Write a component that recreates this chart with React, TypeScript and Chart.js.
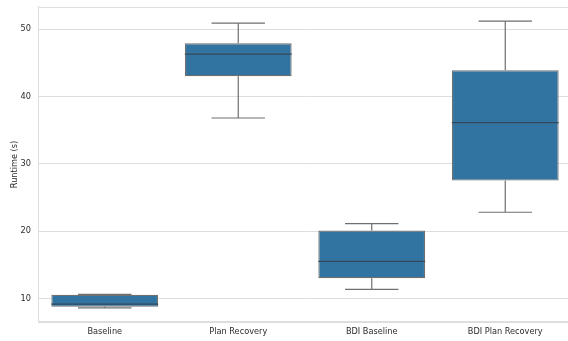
import React, { useEffect, useRef } from "react";
import { Chart, registerables } from "chart.js";

Chart.register(...registerables);

const categories = ["Baseline", "Plan Recovery", "BDI Baseline", "BDI Plan Recovery"];
const whiskerLow = [8.6, 36.8, 11.35, 22.8];
const q1 = [8.75, 43.0, 13.0, 27.5];
const median = [9.15, 46.3, 15.5, 36.1];
const q3 = [10.55, 47.9, 20.1, 43.9];
const whiskerHigh = [10.6, 50.9, 21.1, 51.2];
const yTicks = [10, 20, 30, 40, 50];

const FILL = "#3274a1";
const LINE = "#6f6f6f";
const MEDIAN = "#34495a";
const GRID = "#dedede";
const TEXT = "#2b2b2b";
const FONT = "'DejaVu Sans', sans-serif";
const FS = 8.2;

export default function App() {
  const ref = useRef<HTMLCanvasElement | null>(null);
  useEffect(() => {
    const canvas = ref.current;
    if (!canvas) return;
    const boxPlugin = {
      id: "boxParts",
      beforeDatasetsDraw(chart: any) {
        const { ctx, chartArea } = chart;
        ctx.save();
        ctx.strokeStyle = GRID;
        ctx.lineWidth = 1;
        ctx.strokeRect(chartArea.left + 0.5, chartArea.top + 0.5, chartArea.right - chartArea.left - 1, chartArea.bottom - chartArea.top - 1);
        const x = chart.scales.x;
        const y = chart.scales.y;
        const meta = chart.getDatasetMeta(0);
        ctx.strokeStyle = LINE;
        ctx.lineWidth = 1.2;
        categories.forEach((_, i) => {
          const bar = meta.data[i];
          const cx = x.getPixelForValue(i);
          const half = bar.width / 4;
          const yl = y.getPixelForValue(whiskerLow[i]);
          const yh = y.getPixelForValue(whiskerHigh[i]);
          const y1 = y.getPixelForValue(q1[i]);
          const y3 = y.getPixelForValue(q3[i]);
          ctx.beginPath();
          ctx.moveTo(cx, y1);
          ctx.lineTo(cx, yl);
          ctx.moveTo(cx, y3);
          ctx.lineTo(cx, yh);
          ctx.moveTo(cx - half, yl);
          ctx.lineTo(cx + half, yl);
          ctx.moveTo(cx - half, yh);
          ctx.lineTo(cx + half, yh);
          ctx.stroke();
        });
        ctx.restore();
      },
      afterDatasetsDraw(chart: any) {
        const { ctx } = chart;
        const x = chart.scales.x;
        const y = chart.scales.y;
        const meta = chart.getDatasetMeta(0);
        ctx.save();
        ctx.strokeStyle = MEDIAN;
        ctx.lineWidth = 1.2;
        categories.forEach((_, i) => {
          const bar = meta.data[i];
          const cx = x.getPixelForValue(i);
          const half = bar.width / 2;
          const ym = y.getPixelForValue(median[i]);
          ctx.beginPath();
          ctx.moveTo(cx - half, ym);
          ctx.lineTo(cx + half, ym);
          ctx.stroke();
        });
        ctx.restore();
      },
    };
    const chart = new Chart(canvas, {
      type: "bar",
      data: {
        labels: categories,
        datasets: [
          {
            data: categories.map((_, i) => [q1[i], q3[i]]) as any,
            backgroundColor: FILL,
            borderColor: LINE,
            borderWidth: 1.2,
            borderSkipped: false,
            barPercentage: 0.8,
            categoryPercentage: 1,
          },
        ],
      },
      options: {
        animation: false,
        responsive: false,
        maintainAspectRatio: false,
        layout: { padding: { top: 1, right: 0, left: 0, bottom: 0 } },
        plugins: { legend: { display: false }, tooltip: { enabled: false } },
        scales: {
          x: {
            grid: { display: false, drawTicks: false },
            border: { display: true, color: GRID },
            ticks: { color: TEXT, font: { family: FONT, size: FS }, padding: 5 },
            afterFit(scale: any) {
              scale.height = 19;
            },
          },
          y: {
            min: 6.5,
            max: 53.3,
            grid: { color: GRID, drawTicks: false },
            border: { display: true, color: GRID },
            ticks: {
              color: TEXT,
              font: { family: FONT, size: FS },
              padding: 7,
            },
            afterBuildTicks(scale: any) {
              scale.ticks = yTicks.map((v) => ({ value: v }));
            },
            title: {
              display: true,
              text: "Runtime (s)",
              color: TEXT,
              font: { family: FONT, size: FS },
              padding: { top: 10, bottom: 0 },
            },
            afterFit(scale: any) {
              scale.width = 38;
            },
          },
        },
      },
      plugins: [boxPlugin],
    });
    return () => chart.destroy();
  }, []);
  return (
    <div style={{ position: "fixed", left: 0, top: 0, width: 568, height: 341, background: "#fff", overflow: "hidden" }}>
      <canvas ref={ref} width={572} height={346} style={{ position: "absolute", left: 0, top: -5 }} />
    </div>
  );
}
